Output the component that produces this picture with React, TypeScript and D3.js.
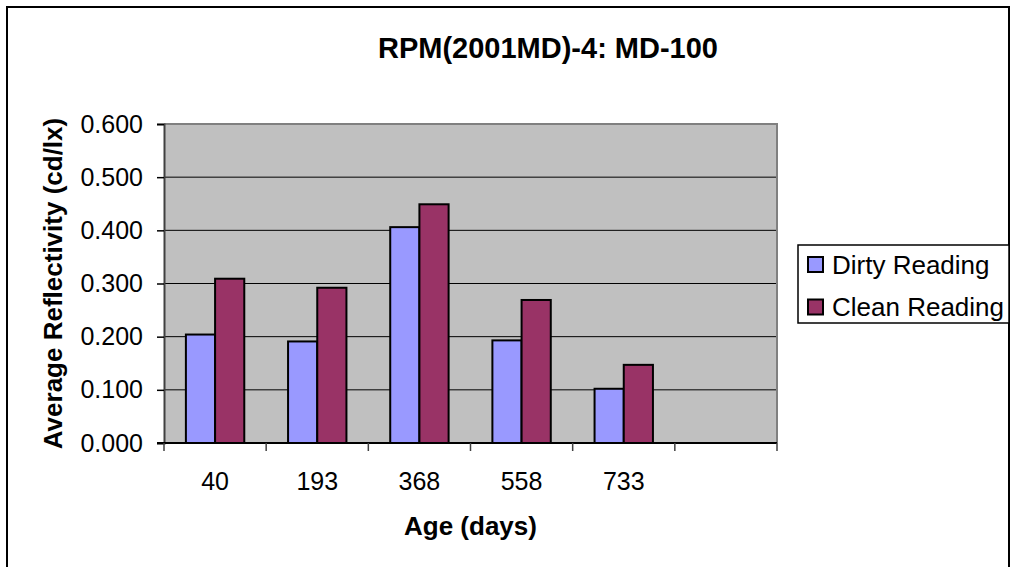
import React, { useRef, useEffect } from 'react'
import * as d3 from 'd3'

const categories = ['40', '193', '368', '558', '733', '']
const dirtyValues = [0.204, 0.191, 0.406, 0.193, 0.102, null]
const cleanValues = [0.309, 0.292, 0.449, 0.269, 0.147, null]
const seriesNames = ['Dirty Reading', 'Clean Reading']
const seriesColors = ['#9999FF', '#993366']
const yTicks = [0, 0.1, 0.2, 0.3, 0.4, 0.5, 0.6]

export default function App() {
  const svgRef = useRef<SVGSVGElement>(null)

  useEffect(() => {
    const svg = d3.select(svgRef.current)
    svg.selectAll('*').remove()

    const width = 1011, height = 567
    const plot = { left: 164, right: 777, top: 124, bottom: 443 }
    const font = 'Liberation Sans, Arial, sans-serif'

    svg.attr('width', width).attr('height', height)
      .style('display', 'block').style('font-family', font)
      .style('position', 'absolute').style('left', '0px').style('top', '0px')

    svg.append('rect').attr('width', width).attr('height', height).attr('fill', '#fff')
    // outer chart frame (bottom cropped)
    svg.append('rect').attr('x', 7).attr('y', 7).attr('width', 1002).attr('height', 600)
      .attr('fill', 'none').attr('stroke', '#000').attr('stroke-width', 2)

    const x = d3.scaleBand().domain(categories.map((_, i) => String(i)))
      .range([plot.left, plot.right])
    const xs = d3.scaleBand().domain(seriesNames).range([0, x.bandwidth()])
      .paddingInner(0).paddingOuter(0.75)
    const y = d3.scaleLinear().domain([0, 0.6]).range([plot.bottom, plot.top])

    svg.append('rect')
      .attr('x', plot.left).attr('y', plot.top)
      .attr('width', plot.right - plot.left).attr('height', plot.bottom - plot.top)
      .attr('fill', '#C0C0C0')

    // gridlines
    svg.append('g').selectAll('line').data(yTicks.filter(t => t > 0 && t < 0.6)).join('line')
      .attr('x1', plot.left).attr('x2', plot.right)
      .attr('y1', d => y(d)).attr('y2', d => y(d))
      .attr('stroke', '#000').attr('stroke-width', 1)

    // plot border top/right
    svg.append('path')
      .attr('d', `M${plot.left},${plot.top}H${plot.right}V${plot.bottom}`)
      .attr('fill', 'none').attr('stroke', '#808080').attr('stroke-width', 2)

    // bars
    const series = [dirtyValues, cleanValues]
    series.forEach((vals, si) => {
      svg.append('g').selectAll('rect')
        .data(vals.map((v, i) => ({ v, i })).filter(d => d.v != null))
        .join('rect')
        .attr('x', d => x(String(d.i))! + xs(seriesNames[si])!)
        .attr('y', d => y(d.v as number))
        .attr('width', xs.bandwidth())
        .attr('height', d => plot.bottom - y(d.v as number))
        .attr('fill', seriesColors[si])
        .attr('stroke', '#000').attr('stroke-width', 2)
    })

    // y axis
    const yAxis = svg.append('g').attr('transform', `translate(${plot.left},0)`)
      .call(d3.axisLeft(y).tickValues(yTicks).tickFormat(d3.format('.3f')).tickSize(7).tickPadding(14))
    yAxis.select('.domain').attr('stroke', '#404040').attr('stroke-width', 2)
    yAxis.selectAll('.tick line').attr('stroke', '#000').attr('stroke-width', 1.5)
    yAxis.selectAll('.tick text').attr('fill', '#000').attr('font-size', '25px')
      .attr('font-family', font)

    // x axis
    const xAxis = svg.append('g').attr('transform', `translate(0,${plot.bottom})`)
    xAxis.append('line').attr('x1', plot.left - 7).attr('x2', plot.right)
      .attr('stroke', '#000').attr('stroke-width', 2)
    const bounds = d3.range(categories.length + 1).map(i => plot.left + i * x.step())
    xAxis.selectAll('.xtick').data(bounds).join('line').attr('class', 'xtick')
      .attr('x1', d => d).attr('x2', d => d).attr('y1', 0).attr('y2', 8)
      .attr('stroke', '#404040').attr('stroke-width', 1.5)
    xAxis.selectAll('text').data(categories).join('text')
      .attr('x', (_, i) => x(String(i))! + x.bandwidth() / 2)
      .attr('y', 47)
      .attr('text-anchor', 'middle').attr('font-size', '25px').attr('fill', '#000')
      .text(d => d)

    // titles
    svg.append('text').attr('x', 548).attr('y', 58)
      .attr('text-anchor', 'middle').attr('font-size', '29px').attr('font-weight', 'bold')
      .text('RPM(2001MD)-4: MD-100')
    svg.append('text').attr('x', (plot.left + plot.right) / 2).attr('y', 535)
      .attr('text-anchor', 'middle').attr('font-size', '26px').attr('font-weight', 'bold')
      .text('Age (days)')
    svg.append('text')
      .attr('transform', `translate(62,${(plot.top + plot.bottom) / 2}) rotate(-90)`)
      .attr('text-anchor', 'middle').attr('font-size', '26px').attr('font-weight', 'bold')
      .text('Average Reflectivity (cd/lx)')

    // legend
    const legend = svg.append('g').attr('transform', 'translate(798,245)')
    legend.append('rect').attr('width', 211).attr('height', 78)
      .attr('fill', '#fff').attr('stroke', '#000').attr('stroke-width', 1.5)
    seriesNames.forEach((name, i) => {
      const cy = 19.5 + i * 42.5
      legend.append('rect').attr('x', 10).attr('y', cy - 7.5).attr('width', 15).attr('height', 15)
        .attr('fill', seriesColors[i]).attr('stroke', '#000').attr('stroke-width', 2)
      legend.append('text').attr('x', 34).attr('y', cy + 9)
        .attr('font-size', '26px').attr('fill', '#000').text(name)
    })
  }, [])

  return <svg ref={svgRef} />
}
